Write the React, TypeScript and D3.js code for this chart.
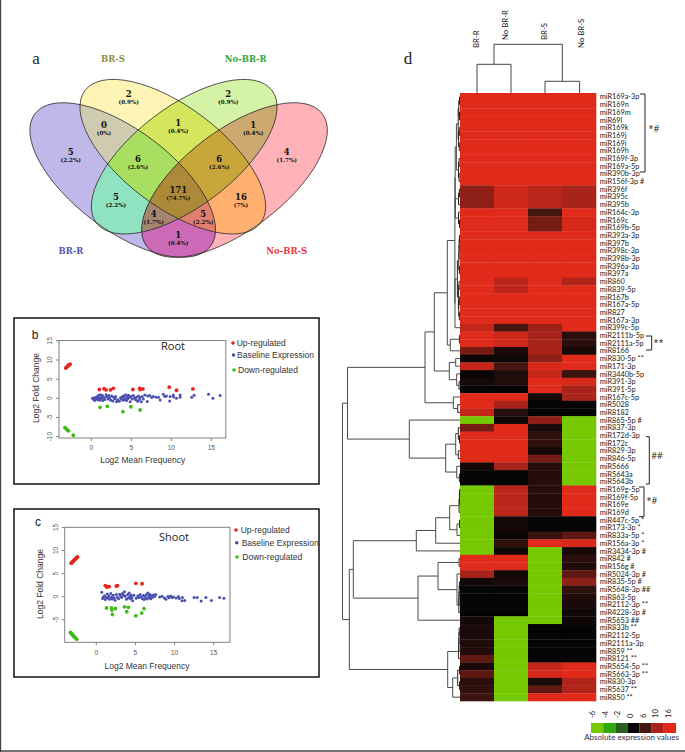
import React from "react";
import * as d3 from "d3";

// ---------- panel a ----------
const vennSets = ["BR-R", "BR-S", "No-BR-R", "No-BR-S"];
const vennTextColors = ["#5553b4", "#8f8e45", "#35a53c", "#e63a3a"];
const vennCounts = [2, 2, 0, 1, 1, 5, 6, 6, 4, 5, 171, 16, 4, 5, 1];
const vennPercents = ["0.9%", "0.9%", "0%", "0.4%", "0.4%", "2.2%", "2.6%", "2.6%", "1.7%", "2.2%", "74.7%", "7%", "1.7%", "2.2%", "0.4%"];
// regions by membership of sets 0..3, painted from fewer sets to more
const vennRegionSets = [[0],[1],[2],[3],[0,1],[1,2],[2,3],[0,2],[0,3],[1,3],[0,1,2],[1,2,3],[0,2,3],[0,1,3],[0,1,2,3]];
const vennRegionColors = ["#bfb8e9","#fef4b5","#d4f3a6","#ffb3b8","#cfcbb0","#d3e65e","#cba970","#8fe3c0","#cc6ab8","#ffb070","#a8df60","#c8a63a","#a58570","#e08070","#ad8a3a"];

// ---------- panels b, c ----------
const rootUp = [[-3.2,7.9],[-3.1,8.1],[-3,8.3],[-2.9,8.5],[-2.8,8.7],[-2.65,8.9],[1,2.3],[1.6,2.5],[1.85,2.2],[2.4,2.2],[2.75,2.6],[5.2,2.3],[6.05,2.6],[6.1,2.3],[6.45,2.45],[9.75,2.9],[10.65,2.1],[12.7,2.45]];
const rootDown = [[-3.3,-7.65],[-3.15,-7.9],[-3,-8.25],[-2.85,-8.5],[-2.25,-9.65],[1.1,-2.35],[2,-2.1],[3.95,-3.5],[4.95,-2.2],[6.1,-3.05]];
const rootBase = [[0.15,0],[0.3,-0.3],[0.35,0.1],[0.45,-0.6],[0.55,0.2],[0.7,-0.2],[0.75,0.5],[0.85,-0.4],[0.95,0.8],[1,0.1],[1.05,-0.5],[1.15,0.9],[1.25,0.3],[1.3,-0.1],[1.4,0.7],[1.45,-0.6],[1.6,0.2],[1.7,-0.3],[1.85,0.9],[1.95,0.4],[2.1,-0.2],[2.2,0.7],[2.3,0.1],[2.45,-0.5],[2.55,0.6],[2.7,-0.7],[2.8,0.3],[2.95,-0.1],[3.05,0.5],[3.15,-0.9],[3.3,-0.4],[3.5,-0.8],[3.65,0.1],[3.75,-0.2],[3.85,0.4],[3.95,-0.5],[4.05,0.6],[4.15,0.1],[4.2,-0.3],[4.3,0.9],[4.4,-0.6],[4.5,0.4],[4.55,-0.1],[4.65,0.8],[4.75,0.2],[4.85,-0.9],[4.95,0.5],[5.1,-0.2],[5.25,0.7],[5.4,0.1],[5.55,-0.4],[5.65,0.3],[5.8,-0.8],[5.9,0.6],[6,-0.3],[6.1,0.2],[6.25,-0.9],[6.35,0.5],[6.5,-0.2],[6.7,0.85],[7.05,0.6],[7,-0.85],[7.3,0.7],[7.55,0.2],[7.75,0.45],[8.1,0.25],[8.4,0.25],[8.6,-0.45],[9,1.05],[9.2,0.5],[9.4,0.6],[9.8,-0.7],[9.85,0.5],[10.25,0.85],[10.3,0.35],[10.65,0],[11.1,0.85],[11.1,0.3],[12.55,0.25],[12.85,0.8],[14.65,1.05],[15.2,0],[16.1,0.7]];
const shootUp = [[-3.2,7.25],[-3.1,7.45],[-3,7.6],[-2.9,7.75],[-2.8,7.95],[-2.7,8.1],[-2.6,8.3],[-2.5,8.45],[-2.4,8.6],[1.15,2.4],[1.35,2.1],[1.65,2.2],[2.55,2.3],[2.7,2.4],[5.05,2.9],[5.85,2.8]];
const shootDown = [[-3.3,-7.75],[-3.2,-7.95],[-3.1,-8.15],[-3,-8.35],[-2.9,-8.55],[-2.8,-8.7],[-2.65,-8.95],[-2.5,-9.2],[1.3,-2.45],[1.95,-2.45],[2.45,-2.55],[2,-2.9],[2.05,-3.85],[3.6,-2.2],[4.1,-2.3],[3.9,-3.25],[5.05,-4.15],[5.8,-3.55],[6.1,-2.6]];
const shootBase = [[0.7,0.95],[0.8,-0.4],[0.9,-0.05],[1.05,0.2],[1.15,-0.6],[1.25,-0.15],[1.4,0.6],[1.5,-0.3],[1.6,0.15],[1.7,-0.55],[1.85,0.7],[1.95,-0.1],[2.05,-0.5],[2.15,0.3],[2.3,-0.3],[2.4,-0.75],[2.55,0.45],[2.7,-0.1],[2.85,-0.45],[3,0.55],[3.1,0.15],[3.25,-0.2],[3.35,0.7],[3.5,0.3],[3.6,1.05],[3.7,0.1],[3.85,-0.55],[4,0.5],[4.1,-0.3],[4.2,0.8],[4.3,0.05],[4.4,-0.5],[4.45,0.35],[4.55,-0.15],[4.65,-0.85],[4.8,0.3],[5.1,-0.35],[5.3,0.15],[5.45,-0.2],[5.6,0.5],[5.75,-0.1],[5.9,-0.45],[6,0.25],[6.1,-0.6],[6.2,0.1],[6.3,-0.3],[6.4,0.45],[6.5,-0.5],[6.6,0.8],[6.7,0.1],[6.75,-0.25],[6.85,0.5],[6.95,-0.45],[7.05,0.2],[7.15,-0.15],[7.3,0.35],[7.45,0.05],[7.6,0.5],[8.1,-0.05],[8.4,0.1],[8.7,-0.3],[8.9,-0.55],[9.15,0.05],[9.3,-0.25],[9.5,0.15],[9.7,-0.15],[9.85,-0.05],[10.2,-0.3],[10.5,0.05],[10.6,-0.4],[10.95,-0.9],[11,-0.15],[11.3,-0.8],[12.5,-0.15],[12.9,-0.15],[13.4,-0.95],[14,-0.15],[14.7,-0.8],[15.75,-0.15],[16.3,-0.35]];
const legendLabels = ["Up-regulated", "Baseline Expression", "Down-regulated"];
const xTicks = [0, 5, 10, 15];
const rootYTicks = [-10, -5, 0, 5, 10, 15];
const shootYTicks = [-5, 0, 5, 10, 15];

// ---------- panel d ----------
const columns = ["BR-R", "No BR-R", "BR-S", "No BR-S"];
const rowLabels = ["miR169a-3p","miR169n","miR169m","miR69l","miR169k","miR169j","miR169i","miR169h","miR169f-3p","miR169a-5p","miR390b-3p","miR156f-3p #","miR396f","miR395c","miR395b","miR164c-3p","miR169c","miR169b-5p","miR393a-3p","miR397b","miR398c-3p","miR398b-3p","miR396a-3p","miR397a","miR860","miR839-5p","miR167b","miR167a-5p","miR827","miR167a-3p","miR399c-5p","miR2111b-5p","miR2111a-5p","miR8166","miR830-5p **","miR171-3p","miR3440b-5p","miR391-3p","miR391-5p","miR167c-5p","miR5028","miR8182","miR865-5p #","miR837-3p","miR172d-3p","miR172c","miR829-3p","miR846-5p","miR5666","miR5643a","miR5643b","miR169g-5p","miR169f-5p","miR169e","miR169d","miR447c-5p *","miR173-3p *","miR833a-5p *","miR156a-3p *","miR3434-3p #","miR842 #","miR156g #","miR5024-3p #","miR835-5p #","miR5648-3p ##","miR863-5p","miR2112-3p **","miR4228-3p #","miR5653 ##","miR833b **","miR2112-5p","miR2111a-3p","miR859 **","miR8121 **","miR5654-5p **","miR5663-3p **","miR830-3p","miR5637 **","miR850 **"];
const valuesBrR = [16,16,16,16,16,16,16,16,16,16,16,16,9,9,9,16,16,16,16,16,16,16,16,16,16,16,16,16,16,16,13,16,16,8,0.5,13,0.5,1.5,0,16,16,13,-6,8,16,16,16,16,1.5,0,0,-6,-6,-6,-6,-6,-6,-6,-6,-6,16,16,10,1.5,0,0,0,0,1.5,2,2,2.5,2.5,7,2,7,3.5,4,5];
const valuesNoBrR = [16,16,16,16,16,16,16,16,16,16,16,16,14,14,14,16,16,16,16,16,16,16,16,16,12,12,16,16,16,16,6,14,14,2,1,6,2.5,2.5,0,16,10,3,1,16,16,16,16,16,10,0,0,12,12,12,12,1.5,1.5,0.5,4,1,16,16,1.5,2,0,0,0,0,-6,-6,-6,-6,-6,-6,-6,-6,-6,-6,-6];
const valuesBrS = [16,16,16,16,16,16,16,16,16,16,16,16,12,12,12,6,8,8,16,16,16,16,16,16,16,16,16,16,16,16,9.5,10,10,10,9,15,13,16,16,1.5,0,0,9,2,4,4,1.5,8,3,3,3,3,3,3,3,0,0,5,16,-6,-6,-6,-6,-6,-6,-6,-6,-6,-6,0,0,0,0,0,13,15,2,7,16];
const valuesNoBrS = [16,16,16,16,16,16,16,16,16,16,16,16,10,10,10,16,15,15,16,16,16,16,16,16,11,16,16,16,16,16,16,3.5,3.5,1.5,16,16,5,15,10,10,0,0,-6,-6,-6,-6,-6,-6,-6,-6,-6,16,16,16,16,0,0,7,15,1.5,3.5,2.5,7,9,4,2.5,2,1,0.8,0,0,0,0,0,16,16,11,11,16];
const heatColumns = [valuesBrR, valuesNoBrR, valuesBrS, valuesNoBrS];
const legendValues = [-6, -4, -2, 0, 6, 10, 16];
const legendColors = ["#76c800", "#2fa812", "#2b5c22", "#050505", "#451510", "#a8231a", "#e02a1a"];

// dendrograms: [height, child, child]; a number is a leaf index
type Tree = number | [number, Tree, Tree];
const link = (h: number, a: Tree, b: Tree): Tree => [h, a, b];
const rowsTop: Tree = link(3.6, link(1.8, link(1.2, link(0.5, 0, 1), link(0.5, 2, 3)), link(1.4, link(0.7, 4, 5), link(0.7, 6, 7))), link(1.5, link(0.9, 8, 9), link(0.9, 10, 11)));
const rowsMid: Tree = link(4.6, link(1.5, link(0.6, 12, 13), 14), link(1.5, 15, link(0.5, 16, 17)));
const rowsLow: Tree = link(2.6, link(1.2, link(1, link(0.8, link(0.6, 18, 19), 20), 21), link(0.6, 22, 23)), link(1.6, link(0.9, 24, 25), link(1.3, link(0.7, 26, 27), link(0.6, 28, 29))));
const rowsA: Tree = link(5.1, link(4.8, rowsTop, rowsMid), link(5, rowsLow, 30));
const rowsB: Tree = link(9.7, link(0.6, 31, 32), 33);
const rowsC: Tree = link(10.7, link(4.3, 34, 35), link(3.3, 36, link(1, 37, 38)));
const rowsD: Tree = link(6.7, 39, link(2.3, 40, 41));
const rowsE: Tree = link(50.7, 42, link(14.3, link(4.3, link(1.7, 43, link(0.5, 44, 45)), link(1.7, 46, 47)), link(3.3, 48, link(0.6, 49, 50))));
const rowsF: Tree = link(43.7, link(24.3, link(10.3, link(0.9, link(0.6, link(0.4, 51, 52), 53), 54), link(3, link(0.5, 55, 56), 57)), 58), 59);
const rowsG: Tree = link(42, link(22, link(0.9, 60, 61), link(3, 62, link(1.2, link(1, link(0.8, link(0.6, 63, 64), 65), 66), 67))), 68);
const rowsH: Tree = link(12.3, link(1.4, link(1.2, link(1, link(0.8, 69, 70), 71), 72), 73), link(7.3, link(2.3, link(0.5, 74, 75), link(0.5, 76, 77)), 78));
const rowTree: Tree = link(117.5, link(112.5, link(35, link(25.7, link(12.7, rowsA, rowsB), rowsC), rowsD), rowsE), link(110.7, link(106.7, rowsF, rowsG), rowsH));
const columnTree: Tree = link(48.7, link(28.7, 0, 1), link(11.7, 2, 3));

function dendroSegments(tree: Tree, pos: (leaf: number) => number) {
  const root = d3.hierarchy<Tree>(tree, (d) => (Array.isArray(d) ? [d[1], d[2]] : null));
  const segs: { h0: number; h1: number; h2: number; p1: number; p2: number }[] = [];
  const place = new Map<any, number>();
  root.eachAfter((n) => {
    if (!n.children) {
      place.set(n, pos(n.data as number));
      return;
    }
    const [a, b] = n.children;
    const h = (n.data as any)[0] as number;
    const hOf = (c: any) => (Array.isArray(c.data) ? c.data[0] : 0);
    const pa = place.get(a)!, pb = place.get(b)!;
    place.set(n, (pa + pb) / 2);
    segs.push({ h0: h, h1: hOf(a), h2: hOf(b), p1: pa, p2: pb });
  });
  return segs;
}

const MOUSE = "'Liberation Sans', Arial, sans-serif";
const TITLE = "'Open Sans', sans-serif";
const LABEL = "Lato, sans-serif";
const SERIF = "'DejaVu Serif', serif";

function Scatter(p: {
  box: number[]; plot: number[]; x0: number; x15: number; y0: number; yPerUnit: number; yTicks: number[];
  up: number[][]; base: number[][]; down: number[][]; letter: string; letterPos: number[]; title: string; titlePos: number[];
  legend: number[][]; yLabelPos: number[]; xLabelPos: number[]; xTickY: number; yTickX: number;
}) {
  const x = d3.scaleLinear().domain([0, 15]).range([p.x0, p.x15]);
  const y = d3.scaleLinear().domain([0, 5]).range([p.y0, p.y0 - 5 * p.yPerUnit]);
  const [l, t, r, b] = p.plot;
  const groups: [number[][], string, number][] = [[p.base, "#4a50b0", 1.5], [p.up, "#e52520", 1.9], [p.down, "#3fbb1c", 1.9]];
  const legendColor = ["#e52520", "#4a50b0", "#3fbb1c"];
  return (
    <g>
      <rect x={p.box[0]} y={p.box[1]} width={p.box[2] - p.box[0]} height={p.box[3] - p.box[1]} fill="#fff" stroke="#111" strokeWidth={1.5} />
      <rect x={l} y={t} width={r - l} height={b - t} fill="none" stroke="#808080" strokeWidth={1} />
      {xTicks.map((v) => (
        <g key={v}>
          <line x1={x(v)} x2={x(v)} y1={b} y2={b + 3} stroke="#808080" />
          <text x={x(v)} y={p.xTickY} textAnchor="middle" fontSize={6.5} fontFamily={MOUSE} fill="#555">{v}</text>
        </g>
      ))}
      {p.yTicks.map((v) => (
        <g key={v}>
          <line x1={l - 3} x2={l} y1={y(v)} y2={y(v)} stroke="#808080" />
          <text transform={`translate(${p.yTickX},${y(v)}) rotate(-90)`} textAnchor="middle" fontSize={6.5} fontFamily={MOUSE} fill="#555">{v}</text>
        </g>
      ))}
      {groups.map(([pts, col, rad], i) => pts.map((d, j) => <circle key={`${i}-${j}`} cx={x(d[0])} cy={y(d[1])} r={rad} fill={col} />))}
      <text x={p.letterPos[0]} y={p.letterPos[1]} fontSize={12} fontFamily={MOUSE} fill="#222" textAnchor="middle">{p.letter}</text>
      <text x={p.titlePos[0]} y={p.titlePos[1]} fontSize={11} fontFamily={TITLE} fill="#222" textAnchor="middle">{p.title}</text>
      {legendLabels.map((s, i) => (
        <g key={s}>
          <circle cx={p.legend[i][0]} cy={p.legend[i][1]} r={1.8} fill={legendColor[i]} />
          <text x={p.legend[i][2]} y={p.legend[i][1] + 3} fontSize={8.5} fontFamily={MOUSE} fill="#333">{s}</text>
        </g>
      ))}
      <text transform={`translate(${p.yLabelPos[0]},${p.yLabelPos[1]}) rotate(-90)`} textAnchor="middle" fontSize={8.5} fontFamily={MOUSE} fill="#333">Log2 Fold Change</text>
      <text x={p.xLabelPos[0]} y={p.xLabelPos[1]} textAnchor="middle" fontSize={8.5} fontFamily={MOUSE} fill="#333">Log2 Mean Frequency</text>
    </g>
  );
}

function Venn() {
  const ellipses = [
    { cx: 122.7, cy: 180, rot: 37 },
    { cx: 172.8, cy: 156.7, rot: 37 },
    { cx: 184.2, cy: 156.7, rot: -37 },
    { cx: 234.5, cy: 180, rot: -37 },
  ];
  const rx = 110, ry = 50;
  const setLabelPos = [[71, 254], [113, 62], [245.7, 62], [286.7, 254]];
  const cellPos = [[128.7, 97], [228.3, 97], [104, 128], [178.3, 126], [253.3, 128], [70.7, 155], [138, 162], [219.3, 162], [286.7, 155], [116, 200], [178.3, 193], [241, 200], [153.7, 217], [203.3, 217], [178.3, 238]];
  const shape = (i: number, extra: any = {}) => {
    const e = ellipses[i];
    return <ellipse cx={e.cx} cy={e.cy} rx={rx} ry={ry} transform={`rotate(${e.rot} ${e.cx} ${e.cy})`} {...extra} />;
  };
  return (
    <g>
      <defs>
        {ellipses.map((_, i) => <clipPath id={`venn-${i}`} key={i}>{shape(i)}</clipPath>)}
      </defs>
      {vennRegionSets.map((sets, k) => {
        const last = sets[sets.length - 1];
        let node = shape(last, { fill: vennRegionColors[k] });
        sets.slice(0, -1).forEach((s) => {
          node = <g clipPath={`url(#venn-${s})`}>{node}</g>;
        });
        return <g key={k}>{node}</g>;
      })}
      {ellipses.map((_, i) => <g key={i}>{shape(i, { fill: "none", stroke: "#222", strokeWidth: 0.7 })}</g>)}
      {vennSets.map((s, i) => (
        <text key={s} x={setLabelPos[i][0]} y={setLabelPos[i][1]} textAnchor="middle" fontSize={8.5} fontWeight="bold" fontFamily={SERIF} fill={vennTextColors[i]}>{s}</text>
      ))}
      {vennCounts.map((c, i) => (
        <g key={i} fontFamily={SERIF} fontWeight="bold" fill="#111" textAnchor="middle">
          <text x={cellPos[i][0]} y={cellPos[i][1]} fontSize={8.5}>{c}</text>
          <text x={cellPos[i][0]} y={cellPos[i][1] + 6.5} fontSize={5.6}>({vennPercents[i]})</text>
        </g>
      ))}
    </g>
  );
}

function Heatmap() {
  const x = d3.scaleBand<number>().domain([0, 1, 2, 3]).range([460, 596]);
  const y = d3.scaleBand<number>().domain(d3.range(rowLabels.length)).range([93, 701]);
  const color = d3.scaleLinear<string>().domain(legendValues).range(legendColors).interpolate(d3.interpolateRgb).clamp(true);
  const rowH = d3.scaleLinear().domain([0, 117.5]).range([460, 342.5]);
  const colH = d3.scaleLinear().domain([0, 48.7]).range([93, 44.3]);
  const rowSegs = dendroSegments(rowTree, (r) => y(r)! + y.bandwidth() / 2);
  const colSegs = dendroSegments(columnTree, (c) => x(c)! + x.bandwidth() / 2 + (c === 3 ? 0.6 : 0));
  const colLabelPos = [[479, 48], [508, 40], [547, 40], [584, 48]];
  const brackets = [
    { x0: 640, x1: 645, y0: 94, y1: 172, mark: "*#", mx: 654, my: 132 },
    { x0: 646, x1: 651.7, y0: 336, y1: 350, mark: "**", mx: 658.5, my: 346 },
    { x0: 646, x1: 649.3, y0: 436.7, y1: 484, mark: "##", mx: 657, my: 459 },
    { x0: 639, x1: 644, y0: 487, y1: 516.7, mark: "*#", mx: 652, my: 504 },
  ];
  const legendX = d3.scaleBand<number>().domain(legendValues).range([591, 676]);
  const legendTick = d3.scalePoint<number>().domain(legendValues).range([595, 671]);
  return (
    <g>
      {heatColumns.map((col, c) => col.map((v, r) => (
        <rect key={`${c}-${r}`} x={x(c)} y={y(r)} width={x.bandwidth() + 0.3} height={y.bandwidth() + 0.3} fill={color(v)} />
      )))}
      {rowSegs.map((s, i) => (
        <path key={i} fill="none" stroke={s.h0 < 3 ? "#222" : "#4a4a4a"} strokeWidth={1} d={`M${rowH(s.h1)},${s.p1}H${rowH(s.h0)}V${s.p2}H${rowH(s.h2)}`} />
      ))}
      {colSegs.map((s, i) => (
        <path key={i} fill="none" stroke="#444" strokeWidth={1} d={`M${s.p1},${colH(s.h1)}V${colH(s.h0)}H${s.p2}V${colH(s.h2)}`} />
      ))}
      {columns.map((c, i) => (
        <text key={c} transform={`translate(${colLabelPos[i][0]},${colLabelPos[i][1]}) rotate(-90)`} fontSize={7.8} fontFamily={LABEL} fill="#222">{c}</text>
      ))}
      {rowLabels.map((s, r) => (
        <text key={r} x={599.7} y={y(r)! + y.bandwidth() / 2 + 2.6} fontSize={7.3} fontFamily={LABEL} fill="#222">{s}</text>
      ))}
      {brackets.map((b, i) => (
        <g key={i}>
          <path d={`M${b.x0},${b.y0}H${b.x1}V${b.y1}H${b.x0}`} fill="none" stroke="#222" strokeWidth={1} />
          <text x={b.mx} y={b.my} fontSize={9} textAnchor="middle" fontFamily={TITLE} fill="#222">{b.mark}</text>
        </g>
      ))}
      {legendValues.map((v, i) => (
        <g key={v}>
          <rect x={legendX(v)} y={723} width={legendX.bandwidth()} height={10} fill={legendColors[i]} />
          <text transform={`translate(${legendTick(v)},718) rotate(-90)`} fontSize={7.6} fontFamily={LABEL} fill="#222">{v}</text>
        </g>
      ))}
      <text x={631.5} y={739.5} textAnchor="middle" fontSize={8} fontFamily={LABEL} fill="#2a3050">Absolute expression values</text>
    </g>
  );
}

export default function App() {
  return (
    <svg width={685} height={752} viewBox="0 0 685 752" style={{ position: "absolute", left: 0, top: 0, display: "block", background: "#fff" }}>
      <line x1={0.5} x2={0.5} y1={0} y2={752} stroke="#444" strokeWidth={1.4} />
      <line x1={0} x2={685} y1={751} y2={751} stroke="#444" strokeWidth={1.4} />
      <text x={36} y={64} fontSize={17} fontFamily="'Liberation Serif', serif" fill="#222" textAnchor="middle">a</text>
      <text x={408} y={64} fontSize={17} fontFamily="'Liberation Serif', serif" fill="#222" textAnchor="middle">d</text>
      <Venn />
      <Scatter box={[14, 318, 319, 484]} plot={[59, 340.5, 225.8, 438]} x0={91.3} x15={211.3} y0={398.3} yPerUnit={3.83} yTicks={rootYTicks}
        up={rootUp} base={rootBase} down={rootDown} letter="b" letterPos={[35, 339]} title="Root" titlePos={[173, 350]}
        legend={[[233, 343, 236.7], [233.5, 355, 237], [234, 370, 238]]} yLabelPos={[39, 388]} xLabelPos={[142.7, 463]} xTickY={450} yTickX={52} />
      <Scatter box={[14, 509, 319, 677]} plot={[64.7, 527.3, 230, 642.3]} x0={96.3} x15={213.7} y0={596.7} yPerUnit={4.62} yTicks={shootYTicks}
        up={shootUp} base={shootBase} down={shootDown} letter="c" letterPos={[38, 526]} title="Shoot" titlePos={[174, 541]}
        legend={[[236, 530, 240.7], [236.7, 542.7, 241.7], [237, 557, 242.3]]} yLabelPos={[43, 584]} xLabelPos={[147, 669]} xTickY={654.5} yTickX={57.5} />
      <Heatmap />
    </svg>
  );
}
